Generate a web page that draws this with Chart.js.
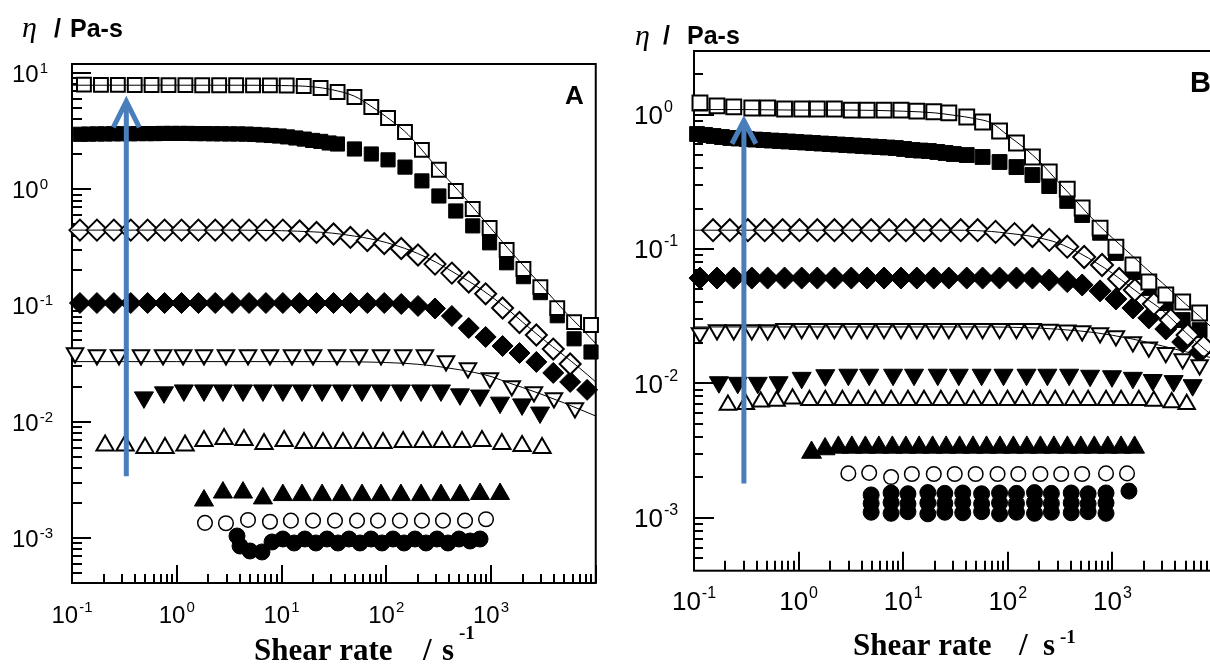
<!DOCTYPE html>
<html>
<head>
<meta charset="utf-8">
<script src="https://cdn.jsdelivr.net/npm/chart.js@4/dist/chart.umd.min.js"></script>
<style>
  html, body { margin: 0; padding: 0; background: #fff; }
  #wrap { position: relative; width: 1210px; height: 664px; overflow: hidden; background: #fff; }
  canvas { position: absolute; top: 0; }
  #chartA { left: 0; }
  #chartB { left: 610px; }
</style>
</head>
<body>
<div id="wrap">
  <canvas id="chartA" width="610" height="664"></canvas>
  <canvas id="chartB" width="620" height="664"></canvas>
</div>
<script>
// shear rate (1/s) and viscosity (Pa-s)

// shared x for the model fit curves
const shearFit = [0.1, 0.3, 1, 3, 10, 20, 30, 50, 70, 100, 150, 200, 300, 500, 700, 1000, 1500, 2000, 3000, 5000, 7000, 10000];

// ---- panel A ----
const aOpenSqX = [0.130, 0.189, 0.274, 0.397, 0.575, 0.834, 1.21, 1.75, 2.54, 3.69, 5.35, 7.75, 11.2, 16.3, 23.6, 34.3, 49.7, 72.0, 104, 151, 219, 318, 461, 669, 970, 1410, 2040, 2960, 4290, 6210, 9010];
const aOpenSqY = [7.95, 7.9, 7.9, 7.88, 7.88, 7.86, 7.86, 7.85, 7.85, 7.84, 7.83, 7.82, 7.8, 7.73, 7.43, 6.87, 6.22, 5.10, 4.10, 3.11, 2.18, 1.47, 0.966, 0.676, 0.464, 0.300, 0.206, 0.144, 0.095, 0.072, 0.068];

const aFilledSqX = [0.12, 0.144, 0.173, 0.207, 0.249, 0.299, 0.358, 0.43, 0.516, 0.619, 0.743, 0.892, 1.07, 1.28, 1.54, 1.85, 2.22, 2.66, 3.19, 3.83, 4.6, 5.52, 6.62, 7.95, 9.54, 11.4, 13.7, 16.5, 19.8, 23.7, 28.5, 34.2,
  49.7, 72, 104, 151, 219, 318, 461, 669, 970, 1410, 2040, 2960, 4290, 6210, 9010];
const aFilledSqY = [2.97, 2.98, 2.99, 2.99, 3.0, 3.0, 3.0, 3.01, 3.01, 3.01, 3.02, 3.02, 3.02, 3.02, 3.01, 3.01, 3.0, 3.0, 2.99, 2.99, 2.98, 2.96, 2.93, 2.90, 2.87, 2.82, 2.76, 2.70, 2.63, 2.58, 2.50, 2.45,
  2.22, 2.01, 1.79, 1.55, 1.18, 0.875, 0.650, 0.484, 0.346, 0.233, 0.177, 0.129, 0.0816, 0.0517, 0.0398];

const aOpenDiaX = [0.119, 0.173, 0.251, 0.364, 0.527, 0.765, 1.11, 1.61, 2.33, 3.38, 4.90, 7.10, 10.3, 14.9, 21.6, 31.4, 45.5, 66.0, 95.7, 139, 201, 292, 423, 613, 889, 1290, 1870, 2710, 3930, 5700];
const aOpenDiaY = [0.445, 0.445, 0.445, 0.445, 0.445, 0.445, 0.445, 0.445, 0.445, 0.445, 0.445, 0.445, 0.445, 0.437, 0.425, 0.412, 0.385, 0.362, 0.341, 0.309, 0.272, 0.227, 0.190, 0.159, 0.126, 0.0952, 0.0714, 0.0557, 0.0422, 0.0314];

const aFilledDiaX = [0.119, 0.173, 0.251, 0.364, 0.527, 0.765, 1.11, 1.61, 2.33, 3.38, 4.90, 7.10, 10.3, 14.9, 21.6, 31.4, 45.5, 66.0, 95.7, 139, 201, 292, 423, 613, 889, 1290, 1870, 2710, 3930, 5700, 8270];
const aFilledDiaY = [0.105, 0.105, 0.105, 0.105, 0.105, 0.105, 0.105, 0.105, 0.105, 0.105, 0.105, 0.105, 0.105, 0.105, 0.105, 0.105, 0.105, 0.105, 0.105, 0.103, 0.0991, 0.0943, 0.0812, 0.0640, 0.0536, 0.0448, 0.0390, 0.0327, 0.0263, 0.0220, 0.0188];

const aOpenDownX = [0.107, 0.173, 0.281, 0.456, 0.740, 1.15, 1.82, 2.95, 4.79, 7.76, 12.6, 20.0, 33.9, 54.9, 89.1, 145, 234, 372, 603, 977, 1580, 2570, 3990, 6330];
const aOpenDownY = [0.0390, 0.0375, 0.0375, 0.0375, 0.0375, 0.0375, 0.0375, 0.0375, 0.0375, 0.0375, 0.0375, 0.0375, 0.0375, 0.0375, 0.0375, 0.0375, 0.0375, 0.0333, 0.0290, 0.0238, 0.0203, 0.0180, 0.0160, 0.0131];

const aFilledDownX = [0.486, 0.755, 1.17, 1.82, 2.76, 4.29, 6.65, 10.3, 15.7, 24.4, 37.8, 58.7, 89.1, 138, 215, 333, 506, 786, 1220, 1980, 2940];
const aFilledDownY = [0.0162, 0.0179, 0.0186, 0.0186, 0.0186, 0.0186, 0.0186, 0.0186, 0.0186, 0.0186, 0.0186, 0.0186, 0.0186, 0.0186, 0.0186, 0.0186, 0.0172, 0.0168, 0.0146, 0.0141, 0.0120];

const aOpenUpX = [0.207, 0.321, 0.498, 0.772, 1.20, 1.82, 2.83, 4.38, 6.81, 10.6, 16.4, 24.9, 38.6, 60.0, 93.1, 145, 224, 341, 529, 820, 1270, 1980, 3070];
const aOpenUpY = [0.00625, 0.00625, 0.00595, 0.00595, 0.00625, 0.00683, 0.00711, 0.00697, 0.00644, 0.00683, 0.00657, 0.00657, 0.00657, 0.00657, 0.00657, 0.00670, 0.00670, 0.00670, 0.00670, 0.00683, 0.00644, 0.00619, 0.00595];

const aFilledUpX = [1.82, 2.76, 4.29, 6.65, 10.3, 15.7, 24.4, 37.8, 58.7, 89.1, 138, 215, 333, 506, 786, 1220];
const aFilledUpY = [0.00210, 0.00246, 0.00246, 0.00219, 0.00234, 0.00234, 0.00234, 0.00234, 0.00234, 0.00234, 0.00234, 0.00234, 0.00234, 0.00234, 0.00239, 0.00239];

const aOpenCircX = [1.86, 2.95, 4.79, 7.76, 12.3, 20.0, 32.4, 52.6, 83.4, 135, 219, 348, 565, 896];
const aOpenCircY = [0.00135, 0.00134, 0.00143, 0.00138, 0.00141, 0.00141, 0.00141, 0.00141, 0.00141, 0.00141, 0.00141, 0.00141, 0.00141, 0.00145];

const aFilledCircX = [3.76, 4.02, 5.00, 6.51, 8.12, 10.3, 13.2, 16.7, 21.3, 27.2, 34.6, 44.1, 56.1, 71.5, 91.0, 116, 148, 188, 240, 305, 388, 495, 631, 786];
const aFilledCircY = [0.00104, 0.000853, 0.000773, 0.000758, 0.000924, 0.00098, 0.000906, 0.00098, 0.000906, 0.00098, 0.000906, 0.00098, 0.000906, 0.00098, 0.000906, 0.00098, 0.000906, 0.00098, 0.000906, 0.00098, 0.000906, 0.00098, 0.000942, 0.00098];

const aFitSq = [7.85, 7.85, 7.85, 7.85, 7.8, 7.6, 7.2, 6.3, 5.25, 4.2, 3.15, 2.4, 1.56, 0.95, 0.67, 0.46, 0.30, 0.225, 0.150, 0.090, 0.066, 0.047];
const aFitDia = [0.445, 0.445, 0.445, 0.445, 0.44, 0.43, 0.42, 0.395, 0.375, 0.348, 0.31, 0.28, 0.235, 0.18, 0.15, 0.12, 0.09, 0.072, 0.053, 0.037, 0.029, 0.022];
const aFitDown = [0.0329, 0.0329, 0.0329, 0.0329, 0.0329, 0.0329, 0.0329, 0.0328, 0.0326, 0.0323, 0.0318, 0.0312, 0.0300, 0.0280, 0.0265, 0.0245, 0.0215, 0.0197, 0.0173, 0.0145, 0.0128, 0.0112];

// ---- panel B ----
const bGrid = [0.114, 0.166, 0.240, 0.357, 0.506, 0.734, 1.07, 1.51, 2.20, 3.19, 4.52, 6.56, 9.52, 13.5, 19.6, 27.3, 40.5, 57.4, 83.4, 121, 172, 249, 370, 514, 762, 1080, 1570, 2230, 3240, 4700, 6820];
const bOpenSqY = [1.22, 1.16, 1.14, 1.12, 1.12, 1.10, 1.10, 1.10, 1.10, 1.08, 1.08, 1.08, 1.08, 1.06, 1.05, 1.03, 0.960, 0.881, 0.755, 0.615, 0.484, 0.374, 0.279, 0.202, 0.143, 0.103, 0.076, 0.0568, 0.0455, 0.0403, 0.0334];

const bFilledSqX = [0.107, 0.128, 0.154, 0.185, 0.222, 0.266, 0.320, 0.383, 0.460, 0.552, 0.663, 0.795, 0.954, 1.15, 1.37, 1.65, 1.98, 2.37, 2.85, 3.42, 4.10, 4.92, 5.91, 7.09, 8.51, 10.2, 12.3, 14.7, 17.6, 21.2, 25.4, 30.5,
  40.5, 57.4, 83.4, 121, 172, 249, 370, 514, 762, 1080, 1570, 2230, 3240, 4700, 6820];
const bFilledSqY = [0.717, 0.705, 0.693, 0.681, 0.670, 0.664, 0.658, 0.652, 0.647, 0.641, 0.636, 0.631, 0.625, 0.620, 0.615, 0.609, 0.604, 0.599, 0.594, 0.589, 0.584, 0.579, 0.574, 0.569, 0.564, 0.555, 0.545, 0.540, 0.536, 0.527, 0.518, 0.509,
  0.500, 0.484, 0.444, 0.407, 0.355, 0.294, 0.228, 0.179, 0.132, 0.0934, 0.0674, 0.0513, 0.0396, 0.0296, 0.0249];

const bOpenDiaX = [0.152, 0.220, 0.327, 0.474, 0.703, 1.02, 1.51, 2.20, 3.26, 4.94, 7.33, 10.6, 15.8, 22.9, 35.5, 51.5, 76.4, 116, 172, 249, 370, 537, 796, 1160, 1640, 2490, 3610, 5240, 7450];
const bOpenDiaY = [0.138, 0.138, 0.138, 0.138, 0.138, 0.138, 0.138, 0.138, 0.138, 0.138, 0.138, 0.138, 0.138, 0.138, 0.138, 0.138, 0.134, 0.129, 0.125, 0.117, 0.104, 0.0872, 0.076, 0.0598, 0.0495, 0.039, 0.0296, 0.0229, 0.0187];

const bFilledDiaY = [0.0608, 0.0608, 0.0608, 0.0608, 0.0608, 0.0608, 0.0608, 0.0608, 0.0608, 0.0608, 0.0608, 0.0608, 0.0608, 0.0608, 0.0608, 0.0608, 0.0608, 0.0608, 0.0608, 0.0608, 0.0608, 0.0587, 0.0572, 0.054, 0.0488, 0.0425, 0.0364, 0.0307, 0.0254, 0.0203, 0.0171];

const bOpenDownY = [0.0237, 0.0250, 0.0250, 0.0250, 0.0250, 0.0255, 0.0255, 0.0255, 0.0255, 0.0255, 0.0255, 0.0255, 0.0255, 0.0255, 0.0255, 0.0255, 0.0255, 0.0255, 0.0255, 0.0255, 0.0255, 0.0252, 0.0249, 0.0245, 0.0237, 0.0225, 0.0203, 0.0186, 0.0169, 0.0152, 0.0137];

const bFilledDownX = [0.173, 0.262, 0.407, 0.644, 1.07, 1.80, 2.99, 4.73, 8.00, 12.7, 21.4, 34.0, 56.2, 91.0, 151, 239, 386, 612, 991, 1570, 2430, 3850, 5850];
const bFilledDownY = [0.0102, 0.0101, 0.0101, 0.0102, 0.0110, 0.0115, 0.0116, 0.0116, 0.0116, 0.0116, 0.0116, 0.0116, 0.0116, 0.0116, 0.0116, 0.0116, 0.0116, 0.0114, 0.0113, 0.0110, 0.0106, 0.0104, 0.0097];

const bOpenUpX = [0.211, 0.313, 0.434, 0.616, 0.875, 1.27, 1.80, 2.62, 3.72, 5.39, 7.66, 11.1, 15.8, 22.9, 32.5, 47.2, 67.0, 99.3, 138, 205, 284, 422, 586, 869, 1210, 1790, 2490, 3690, 5130];
const bOpenUpY = [0.0069, 0.0070, 0.0073, 0.0074, 0.0077, 0.0075, 0.0075, 0.0075, 0.0075, 0.0075, 0.0075, 0.0075, 0.0075, 0.0075, 0.0075, 0.0075, 0.0075, 0.0075, 0.0075, 0.0075, 0.0075, 0.0075, 0.0075, 0.0075, 0.0075, 0.0075, 0.0074, 0.0072, 0.0070];

const bFilledUpX = [1.33, 1.79, 2.40, 3.23, 4.35, 5.85, 7.87, 10.6, 14.2, 19.1, 25.7, 34.6, 46.5, 62.6, 84.2, 113, 152, 205, 276, 371, 499, 671, 903, 1210, 1630];
const bFilledUpY = [0.00306, 0.00325, 0.00334, 0.00334, 0.00334, 0.00334, 0.00334, 0.00334, 0.00334, 0.00334, 0.00334, 0.00334, 0.00334, 0.00334, 0.00334, 0.00334, 0.00334, 0.00334, 0.00334, 0.00334, 0.00334, 0.00334, 0.00334, 0.00334, 0.00334];

const bOpenCircX = [2.99, 4.73, 7.66, 12.1, 19.6, 31.1, 49.3, 79.8, 126, 205, 324, 514, 869, 1380];
const bOpenCircY = [0.00214, 0.00216, 0.00201, 0.00212, 0.00212, 0.00212, 0.00212, 0.00212, 0.00212, 0.00212, 0.00212, 0.00212, 0.00214, 0.00214];

const bFilledCircX = [4.94, 7.66, 11.1, 17.2, 25.0, 37.1, 56.2, 83.4, 121, 180, 261, 404, 586, 869, 1440];
const bFilledCircTop = [0.00148, 0.00153, 0.00151, 0.00154, 0.00152, 0.00153, 0.00151, 0.00153, 0.00152, 0.00154, 0.00152, 0.00153, 0.00151, 0.00153, 0.00158];
const bFilledCircMid = [0.00128, 0.00130, 0.00127, 0.00129, 0.00128, 0.00130, 0.00127, 0.00129, 0.00128, 0.00130, 0.00128, 0.00129, 0.00127, 0.00129, null];
const bFilledCircLow = [0.00110, 0.00108, 0.00111, 0.00107, 0.00110, 0.00109, 0.00111, 0.00107, 0.00110, 0.00108, 0.00110, 0.00109, 0.00111, 0.00108, null];

const bFitSq = [1.09, 1.09, 1.08, 1.08, 1.06, 1.03, 0.99, 0.93, 0.865, 0.70, 0.55, 0.449, 0.319, 0.208, 0.157, 0.121, 0.091, 0.074, 0.056, 0.039, 0.031, 0.024];
const bFitDia = [0.138, 0.138, 0.138, 0.138, 0.138, 0.138, 0.138, 0.137, 0.135, 0.131, 0.126, 0.121, 0.111, 0.092, 0.079, 0.066, 0.052, 0.044, 0.035, 0.024, 0.019, 0.015];
const bFitDown = [0.0263, 0.0263, 0.0263, 0.0263, 0.0263, 0.0263, 0.0263, 0.0263, 0.0263, 0.0262, 0.0260, 0.0258, 0.0253, 0.0245, 0.0238, 0.0228, 0.0215, 0.0205, 0.0190, 0.0172, 0.0162, 0.0152];

// blue arrow (panel A, panel B)
const arrowShear = [0.33, 0.30];
const arrowLow = [0.0034, 0.0018];
const arrowHigh = [5.7, 0.9];

// axis tick labels (powers of ten)
const xTickExp = [-1, 0, 1, 2, 3];
const aYTickExp = [1, 0, -1, -2, -3];
const bYTickExp = [0, -1, -2, -3];

// ---------------------------------------------------------------

function pts(xs, ys) {
  return xs.map((x, i) => ({ x: x, y: ys[i] })).filter(p => p.y != null);
}

function marker(xs, ys, style, r, filled, extra) {
  return Object.assign({
    data: pts(xs, ys),
    showLine: false,
    pointStyle: style,
    pointRadius: r,
    pointHoverRadius: r,
    pointBackgroundColor: filled ? '#000' : '#fff',
    pointBorderColor: '#000',
    pointBorderWidth: filled ? 1 : 2,
    clip: false,
    order: filled ? 3 : 2
  }, extra || {});
}

function fit(ys) {
  return {
    data: pts(shearFit, ys),
    showLine: true,
    borderColor: '#000',
    borderWidth: 1,
    pointRadius: 0,
    cubicInterpolationMode: 'monotone',
    order: 1
  };
}

const SANS = '"Liberation Sans", Arial, sans-serif';
const SERIF = '"Liberation Serif", "Times New Roman", serif';

function powLabel(ctx, x, y, exp, size, supSize, supDy, align) {
  ctx.font = size + 'px ' + SANS;
  const w1 = ctx.measureText('10').width;
  ctx.font = supSize + 'px ' + SANS;
  const sup = String(exp);
  const w2 = ctx.measureText(sup).width;
  let x0 = x;
  if (align === 'center') x0 = x - (w1 + 1 + w2) / 2;
  ctx.font = size + 'px ' + SANS;
  ctx.fillText('10', x0, y);
  ctx.font = supSize + 'px ' + SANS;
  ctx.fillText(sup, x0 + w1 + 1, y + supDy);
}

function framePlugin(p) {
  return {
    id: 'frame' + p.name,
    beforeDatasetsDraw(chart) {
      const { ctx, chartArea: a, scales: { x, y } } = chart;
      ctx.save();
      ctx.strokeStyle = '#000';
      ctx.fillStyle = '#000';
      ctx.lineWidth = 2;
      ctx.strokeRect(a.left, a.top, a.right - a.left, a.bottom - a.top);

      // y ticks, inside the box
      ctx.beginPath();
      for (let e = Math.floor(Math.log10(y.min)); e <= Math.ceil(Math.log10(y.max)); e++) {
        for (let k = 1; k <= 9; k++) {
          const v = k * Math.pow(10, e);
          if (v < y.min || v > y.max) continue;
          const py = Math.round(y.getPixelForValue(v));
          ctx.moveTo(a.left, py);
          ctx.lineTo(a.left + (k === 1 ? p.yMajor : p.yMinor), py);
        }
      }
      // x ticks, inside the box
      for (let e = Math.floor(Math.log10(x.min)); e <= Math.ceil(Math.log10(x.max)); e++) {
        for (let k = 1; k <= 9; k++) {
          const v = k * Math.pow(10, e);
          if (v < x.min || v > x.max) continue;
          const px = Math.round(x.getPixelForValue(v));
          ctx.moveTo(px, a.bottom);
          ctx.lineTo(px, a.bottom - (k === 1 ? p.xMajor : p.xMinor));
        }
      }
      ctx.stroke();

      ctx.textBaseline = 'alphabetic';
      ctx.textAlign = 'left';
      p.yExp.forEach(e => {
        const py = y.getPixelForValue(Math.pow(10, e));
        powLabel(ctx, p.yLabelX, py + p.yBase, e, p.font, p.supFont, p.ySup - p.yBase, 'left');
      });
      xTickExp.forEach(e => {
        const px = x.getPixelForValue(Math.pow(10, e));
        powLabel(ctx, px, p.xBase, e, p.font, p.supFont, p.xSup - p.xBase, 'center');
      });

      // axis titles
      ctx.font = 'italic ' + p.etaSize + 'px ' + SERIF;
      ctx.fillText('\u03b7', p.eta[0], p.eta[1]);
      ctx.font = 'bold ' + p.unitSize + 'px ' + SANS;
      ctx.fillText('/', p.slash[0], p.slash[1]);
      ctx.fillText('Pa-s', p.unit[0], p.unit[1]);

      ctx.font = 'bold ' + p.xtSize + 'px ' + SERIF;
      ctx.fillText('Shear rate', p.xt[0], p.xt[1]);
      ctx.fillText('/', p.xtSlash, p.xt[1]);
      ctx.fillText('s', p.xtS, p.xt[1]);
      ctx.font = 'bold ' + p.xtSupSize + 'px ' + SERIF;
      ctx.fillText('-1', p.xtSup[0], p.xtSup[1]);

      ctx.font = 'bold ' + p.letterSize + 'px ' + SANS;
      ctx.fillText(p.name, p.letter[0], p.letter[1]);
      ctx.restore();
    },
    afterDatasetsDraw(chart) {
      const { ctx, scales: { x, y } } = chart;
      const i = p.arrow;
      const px = x.getPixelForValue(arrowShear[i]);
      const yTip = y.getPixelForValue(arrowHigh[i]);
      const yEnd = y.getPixelForValue(arrowLow[i]);
      ctx.save();
      ctx.strokeStyle = '#4a7ebb';
      ctx.lineWidth = 5;
      ctx.lineCap = 'butt';
      ctx.beginPath();
      ctx.moveTo(px, yEnd);
      ctx.lineTo(px, yTip + 3);
      ctx.stroke();
      ctx.beginPath();
      ctx.moveTo(px - p.head[0], yTip + p.head[1]);
      ctx.lineTo(px, yTip);
      ctx.lineTo(px + p.head[0], yTip + p.head[1]);
      ctx.stroke();
      ctx.restore();
    }
  };
}

function makeChart(id, datasets, yMin, yMax, padding, p) {
  return new Chart(document.getElementById(id), {
    type: 'scatter',
    data: { datasets: datasets },
    options: {
      responsive: false,
      animation: false,
      devicePixelRatio: 1,
      layout: { padding: padding },
      plugins: { legend: { display: false }, tooltip: { enabled: false } },
      scales: {
        x: { type: 'logarithmic', min: 0.1, max: 10000, display: false },
        y: { type: 'logarithmic', min: yMin, max: yMax, display: false }
      }
    },
    plugins: [framePlugin(p)]
  });
}

const down = { pointRotation: 180 };

makeChart('chartA', [
  fit(aFitSq), fit(aFitDia), fit(aFitDown),
  marker(aFilledSqX, aFilledSqY, 'rect', 10, true),
  marker(aOpenSqX, aOpenSqY, 'rect', 9.8, false),
  marker(aFilledDiaX, aFilledDiaY, 'rectRot', 10.5, true),
  marker(aOpenDiaX, aOpenDiaY, 'rectRot', 10.5, false),
  marker(aOpenDownX, aOpenDownY, 'triangle', 9.5, false, down),
  marker(aFilledDownX, aFilledDownY, 'triangle', 11, true, down),
  marker(aOpenUpX, aOpenUpY, 'triangle', 10, false),
  marker(aFilledUpX, aFilledUpY, 'triangle', 11, true),
  marker(aOpenCircX, aOpenCircY, 'circle', 7.3, false, { pointBorderWidth: 1.5 }),
  marker(aFilledCircX, aFilledCircY, 'circle', 8, true)
], 0.000410, 11.95, { left: 72, top: 64, right: 14.25, bottom: 81 }, {
  name: 'A', arrow: 0,
  font: 24, supFont: 15,
  yLabelX: 12, yBase: 9, ySup: 0, yExp: aYTickExp,
  xBase: 623, xSup: 612,
  yMajor: 19, yMinor: 10, xMajor: 18, xMinor: 9,
  etaSize: 30, eta: [22, 37], unitSize: 25, slash: [54, 37], unit: [70, 37],
  xtSize: 31, xt: [254, 660], xtSlash: 423, xtS: 442, xtSupSize: 19, xtSup: [459, 639],
  letterSize: 26, letter: [565, 104],
  head: [13, 26]
});

const bFilledCircXAll = bFilledCircX.concat(bFilledCircX, bFilledCircX);
const bFilledCircYAll = bFilledCircTop.concat(bFilledCircMid, bFilledCircLow);

makeChart('chartB', [
  fit(bFitSq), fit(bFitDia), fit(bFitDown),
  marker(bFilledSqX, bFilledSqY, 'rect', 10.5, true),
  marker(bGrid, bOpenSqY, 'rect', 10.5, false),
  marker(bGrid, bFilledDiaY, 'rectRot', 11, true),
  marker(bOpenDiaX, bOpenDiaY, 'rectRot', 11, false),
  marker(bGrid, bOpenDownY, 'triangle', 9.5, false, down),
  marker(bFilledDownX, bFilledDownY, 'triangle', 11, true, down),
  marker(bOpenUpX, bOpenUpY, 'triangle', 9.5, false),
  marker(bFilledUpX, bFilledUpY, 'triangle', 11.5, true),
  marker(bOpenCircX, bOpenCircY, 'circle', 7.3, false, { pointBorderWidth: 1.5 }),
  marker(bFilledCircXAll, bFilledCircYAll, 'circle', 8, true)
], 0.000404, 2.973, { left: 84, top: 51, right: 10.5, bottom: 93.3 }, {
  name: 'B', arrow: 1,
  font: 26, supFont: 16,
  yLabelX: 24, yBase: 9.5, ySup: -2.5, yExp: bYTickExp,
  xBase: 610, xSup: 598,
  yMajor: 20, yMinor: 9, xMajor: 19, xMinor: 10,
  etaSize: 30, eta: [25, 45], unitSize: 25, slash: [53, 44], unit: [77, 44],
  xtSize: 31, xt: [243, 655], xtSlash: 409, xtS: 433, xtSupSize: 19, xtSup: [450, 643],
  letterSize: 29, letter: [580, 92],
  head: [12, 23]
});
</script>
</body>
</html>
